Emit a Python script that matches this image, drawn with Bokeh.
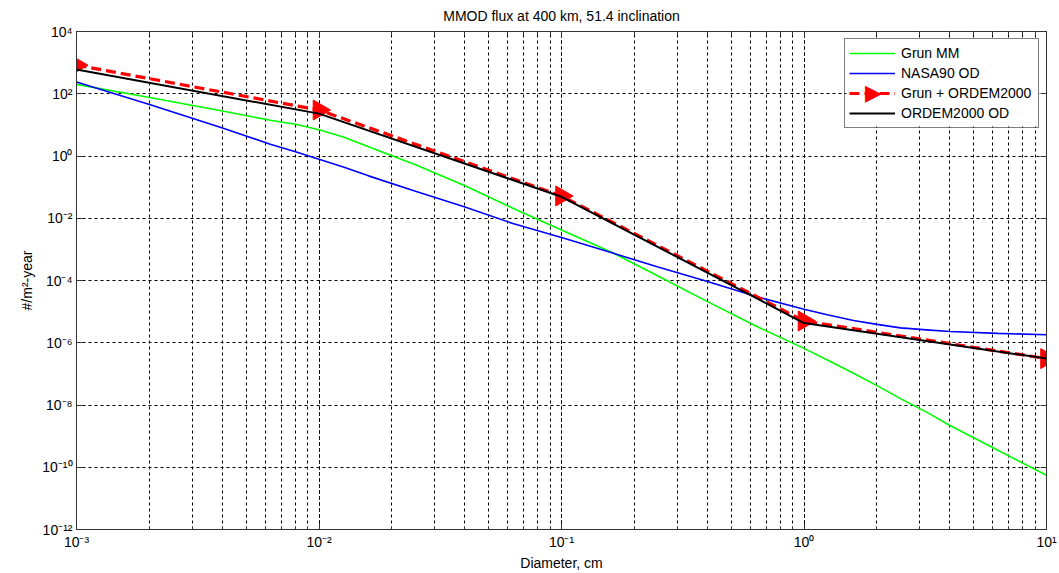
import math
from bokeh.plotting import figure
from bokeh.models import (LogAxis, FixedTicker, LogTicker, CustomJSTickFormatter,
                          Legend, LegendItem, ColumnDataSource, Label, BoxAnnotation)
from bokeh.embed import file_html
from bokeh.resources import INLINE

# ---------------- data ----------------
diam = [0.001, 0.002, 0.004, 0.0063, 0.008, 0.01, 0.0126, 0.016, 0.025, 0.04, 0.063, 0.1,
        0.16, 0.25, 0.4, 0.63, 1.0, 1.26, 1.6, 2.0, 2.5, 3.2, 4.0, 6.3, 10.0]
grun_mm = [200, 76, 28, 14, 10.5, 7.0, 4.1, 2.0, 0.52, 0.11, 2.1e-2, 4.2e-3,
           8.3e-4, 1.4e-4, 2.1e-5, 3.5e-6, 6.6e-7, 2.7e-7, 1.05e-7, 4.2e-8, 1.6e-8,
           5.9e-9, 2.2e-9, 3.5e-10, 5.5e-11]
nasa90_od = [240, 45, 7.9, 2.4, 1.38, 0.79, 0.44, 0.23, 0.074, 0.023, 6.8e-3, 2.4e-3,
             7.9e-4, 2.7e-4, 9.3e-5, 3.1e-5, 1.2e-5, 7.8e-6, 5.2e-6, 3.9e-6, 3.0e-6,
             2.6e-6, 2.3e-6, 2.0e-6, 1.8e-6]

diam_ordem = [0.001, 0.01, 0.1, 1.0, 10.0]
grun_plus_ordem = [830, 30, 0.052, 5.0e-6, 3.1e-7]
ordem2000_od = [600, 23, 0.049, 4.3e-6, 3.1e-7]

y_ticks = [1e-12, 1e-10, 1e-8, 1e-6, 1e-4, 1e-2, 1e0, 1e2, 1e4]

title_text = "MMOD flux at 400 km, 51.4 inclination"
x_label = "Diameter, cm"
y_label = "#/m\u00b2-year"
names = ["Grun MM", "NASA90 OD", "Grun + ORDEM2000", "ORDEM2000 OD"]

FONT = "Liberation Sans"

# ---------------- figure ----------------
W, H = 1059, 573
BL, BR, BT, BB = 76, 13, 31, 43
p = figure(width=W, height=H, x_axis_type="log", y_axis_type="log",
           x_range=(1e-3, 10), y_range=(1e-12, 1e4),
           output_backend="svg", toolbar_location=None,
           min_border_left=BL, min_border_right=BR, min_border_top=BT, min_border_bottom=BB)

p.title.text = title_text
p.title.align = "center"
p.title.vertical_align = "top"
p.title.text_font = FONT
p.title.text_font_size = "14px"
p.title.text_font_style = "normal"
p.title.text_color = "black"
p.title.standoff = 12

sup_code = """
const sup = {'-':'\u207b','0':'\u2070','1':'\u00b9','2':'\u00b2','3':'\u00b3','4':'\u2074',
             '5':'\u2075','6':'\u2076','7':'\u2077','8':'\u2078','9':'\u2079'};
const e = Math.round(Math.log10(tick));
return '10' + String(e).split('').map(c => sup[c]).join('');
"""
fmt = CustomJSTickFormatter(code=sup_code)
blank = CustomJSTickFormatter(code="return ''")

xt = LogTicker(num_minor_ticks=10)
yt = FixedTicker(ticks=y_ticks, minor_ticks=[])

for ax in p.xaxis:
    ax.ticker = xt
for ax in p.yaxis:
    ax.ticker = yt

def style_axis(ax, labels=True):
    ax.formatter = fmt if labels else blank
    ax.major_tick_in = 6
    ax.major_tick_out = 0
    ax.minor_tick_in = 3
    ax.minor_tick_out = 0
    ax.axis_line_color = "#333333"
    ax.major_tick_line_color = "#333333"
    ax.minor_tick_line_color = "#333333"
    ax.major_label_text_font = FONT
    ax.major_label_text_font_size = "14px" if labels else "0px"
    ax.major_label_text_color = "black"
    ax.major_label_standoff = 4 if labels else 0
    ax.axis_label_text_font = FONT
    ax.axis_label_text_font_size = "14px"
    ax.axis_label_text_font_style = "normal"
    ax.axis_label_text_color = "black"

style_axis(p.xaxis[0])
style_axis(p.yaxis[0])
p.xaxis[0].axis_label = x_label
p.xaxis[0].axis_label_standoff = 2
p.yaxis[0].axis_label = y_label
p.yaxis[0].axis_label_standoff = 4

top_ax = LogAxis(ticker=xt)
style_axis(top_ax, labels=False)
p.add_layout(top_ax, "above")
right_ax = LogAxis(ticker=yt)
style_axis(right_ax, labels=False)
p.add_layout(right_ax, "right")

p.xgrid.ticker = xt
p.ygrid.ticker = yt
p.xgrid.grid_line_color = "black"
p.xgrid.grid_line_dash = "3 3"
p.xgrid.grid_line_width = 1
p.xgrid.minor_grid_line_color = "black"
p.xgrid.minor_grid_line_dash = "3 3"
p.ygrid.grid_line_color = "black"
p.ygrid.grid_line_dash = "3 3"
p.ygrid.grid_line_width = 1

p.outline_line_color = "#333333"
p.background_fill_color = "white"
p.border_fill_color = "white"

# ---------------- series ----------------
src_fine = ColumnDataSource(dict(d=diam, g=grun_mm, n=nasa90_od))
src_ord = ColumnDataSource(dict(d=diam_ordem, gp=grun_plus_ordem, o=ordem2000_od))

r_green = p.line("d", "g", source=src_fine, line_color="#00ff00", line_width=1.6)
r_blue = p.line("d", "n", source=src_fine, line_color="#0000ff", line_width=1.6)
r_red = p.line("d", "gp", source=src_ord, line_color="#ff0000", line_width=3.2, line_dash="10 5")
r_redm = p.scatter("d", "gp", source=src_ord, marker="triangle", angle=-math.pi / 2,
                   size=20, fill_color="#ff0000", line_color="#ff0000")
r_black = p.line("d", "o", source=src_ord, line_color="black", line_width=2)

# legend geometry (canvas pixels)
LG_MARGIN, LG_PAD, LG_GW, LG_ROW, LG_STAND, LG_LW = 7, 4, 46, 20, 6, 133
lg_w = 2 * LG_PAD + LG_GW + LG_STAND + LG_LW
lg_h = 2 * LG_PAD + 4 * LG_ROW
frame_right = W - BR
lg_right = frame_right - LG_MARGIN
lg_left = lg_right - lg_w
lg_top = BT + LG_MARGIN
lg_bottom = lg_top + lg_h

# white backing for the legend (the legend itself is drawn transparent on top)
p.add_layout(BoxAnnotation(left=lg_left, right=lg_right, top=lg_top, bottom=lg_bottom,
                           left_units="canvas", right_units="canvas",
                           top_units="canvas", bottom_units="canvas",
                           fill_color="white", fill_alpha=1, line_color=None))

# right-pointing triangle of the red series' legend entry
p.add_layout(Label(x=lg_left + LG_PAD + LG_GW / 2, y=lg_top + LG_PAD + 2.5 * LG_ROW,
                   x_units="canvas", y_units="canvas", text="\u25b6",
                   text_color="#ff0000", text_font="DejaVu Sans",
                   text_font_size="22px", text_align="center", text_baseline="middle"))

legend = Legend(items=[
    LegendItem(label=names[0], renderers=[r_green]),
    LegendItem(label=names[1], renderers=[r_blue]),
    LegendItem(label=names[2], renderers=[r_red]),
    LegendItem(label=names[3], renderers=[r_black]),
], location="top_right")
legend.label_text_font = FONT
legend.label_text_font_size = "14px"
legend.label_text_color = "black"
legend.glyph_width = LG_GW
legend.glyph_height = LG_ROW
legend.label_height = LG_ROW
legend.label_width = LG_LW
legend.label_standoff = LG_STAND
legend.spacing = 0
legend.padding = LG_PAD
legend.margin = LG_MARGIN
legend.border_line_color = "black"
legend.border_line_width = 1
legend.background_fill_alpha = 0
p.add_layout(legend)

open("out.html", "w").write(file_html(p, INLINE))
